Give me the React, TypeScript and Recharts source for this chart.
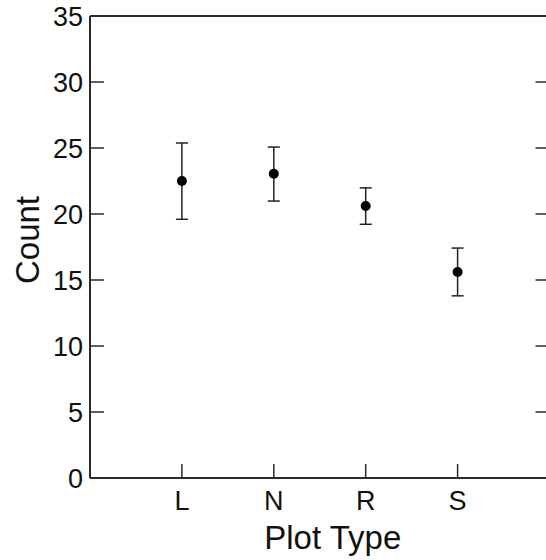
import React from 'react';
import * as Recharts from 'recharts';
import { ScatterChart, Scatter, XAxis, YAxis, ErrorBar, Label } from 'recharts';

const categories = ['L', 'N', 'R', 'S'];
const means = [22.5, 23.05, 20.6, 15.6];
const upper = [25.38, 25.07, 21.98, 17.42];
const lower = [19.6, 20.98, 19.22, 13.8];
const yTicks = [0, 5, 10, 15, 20, 25, 30, 35];
const xTicks = [1, 2, 3, 4];

const data = categories.map((c, i) => ({
  x: i + 1,
  y: means[i],
  err: [means[i] - lower[i], upper[i] - means[i]],
}));

const FONT = '"Liberation Sans", Arial, sans-serif';
const M = 7;
const TL = 14;
const AX = '#2a2a2a';
const TF = 27;

const usePlotAreaSafe: () => any = (Recharts as any).usePlotArea || (() => null);

const LeftTick = (p: any) => {
  const pa = usePlotAreaSafe();
  const right = pa ? pa.x + pa.width : null;
  return (
    <g>
      <line x1={p.x + M} x2={p.x + M + TL} y1={p.y} y2={p.y} stroke={AX} strokeWidth={1.5} />
      {right != null && (
        <line x1={right - TL} x2={right} y1={p.y} y2={p.y} stroke={AX} strokeWidth={1.5} />
      )}
      <text x={p.x} y={p.y} dy="0.36em" textAnchor="end" fontSize={TF} fontFamily={FONT} fill="#111">
        {p.payload.value}
      </text>
    </g>
  );
};

const BottomTick = (p: any) => (
  <g>
    <line x1={p.x} x2={p.x} y1={p.y - M} y2={p.y - M - TL} stroke={AX} strokeWidth={1.5} />
    <text x={p.x} y={p.y - M + 32} textAnchor="middle" fontSize={TF} fontFamily={FONT} fill="#111">
      {categories[p.payload.value - 1]}
    </text>
  </g>
);

const TopTick = (p: any) => (
  <line x1={p.x} x2={p.x} y1={p.y + M} y2={p.y + M + TL} stroke={AX} strokeWidth={1.5} />
);

const Dot = (p: any) => <circle cx={p.cx} cy={p.cy} r={5} fill="#000" />;

export default function App() {
  return (
    <div style={{ position: 'absolute', left: 0, top: 0 }}>
      <ScatterChart
        width={546}
        height={560}
        margin={{ top: 0, right: -3.5, bottom: 0, left: 0 }}
      >
        <XAxis
          xAxisId="b"
          type="number"
          dataKey="x"
          domain={[0, 5]}
          ticks={xTicks}
          orientation="bottom"
          height={82}
          tickSize={0}
          tickMargin={M}
          tickLine={false}
          tick={<BottomTick />}
          axisLine={{ stroke: AX, strokeWidth: 2 }}
          interval={0}
        >
          <Label
            content={(lp: any) => {
              const vb = lp.viewBox;
              return (
                <text x={vb.x + vb.width / 2 + 13} y={vb.y + 71} textAnchor="middle" fontSize={33} fontFamily={FONT} fill="#111">
                  Plot Type
                </text>
              );
            }}
          />
        </XAxis>
        <XAxis
          xAxisId="t"
          type="number"
          dataKey="x"
          domain={[0, 5]}
          ticks={xTicks}
          orientation="top"
          height={16}
          tickSize={0}
          tickMargin={M}
          tickLine={false}
          tick={<TopTick />}
          axisLine={{ stroke: AX, strokeWidth: 2 }}
          interval={0}
        />
        <YAxis
          yAxisId="l"
          type="number"
          dataKey="y"
          domain={[0, 35]}
          ticks={yTicks}
          orientation="left"
          width={90}
          tickSize={0}
          tickMargin={M}
          tickLine={false}
          tick={<LeftTick />}
          axisLine={{ stroke: AX, strokeWidth: 2 }}
          interval={0}
        >
          <Label
            content={(lp: any) => {
              const vb = lp.viewBox;
              const cx = vb.x + 27;
              const cy = vb.y + vb.height / 2 - 7;
              return (
                <text x={cx} y={cy} transform={`rotate(-90 ${cx} ${cy})`} dy="0.36em" textAnchor="middle" fontSize={33} fontFamily={FONT} fill="#111">
                  Count
                </text>
              );
            }}
          />
        </YAxis>
        <Scatter
          data={data}
          xAxisId="b"
          yAxisId="l"
          shape={<Dot />}
          isAnimationActive={false}
        >
          <ErrorBar dataKey="err" direction="y" width={6} stroke="#222" strokeWidth={1.5} isAnimationActive={false} />
        </Scatter>
      </ScatterChart>
    </div>
  );
}
